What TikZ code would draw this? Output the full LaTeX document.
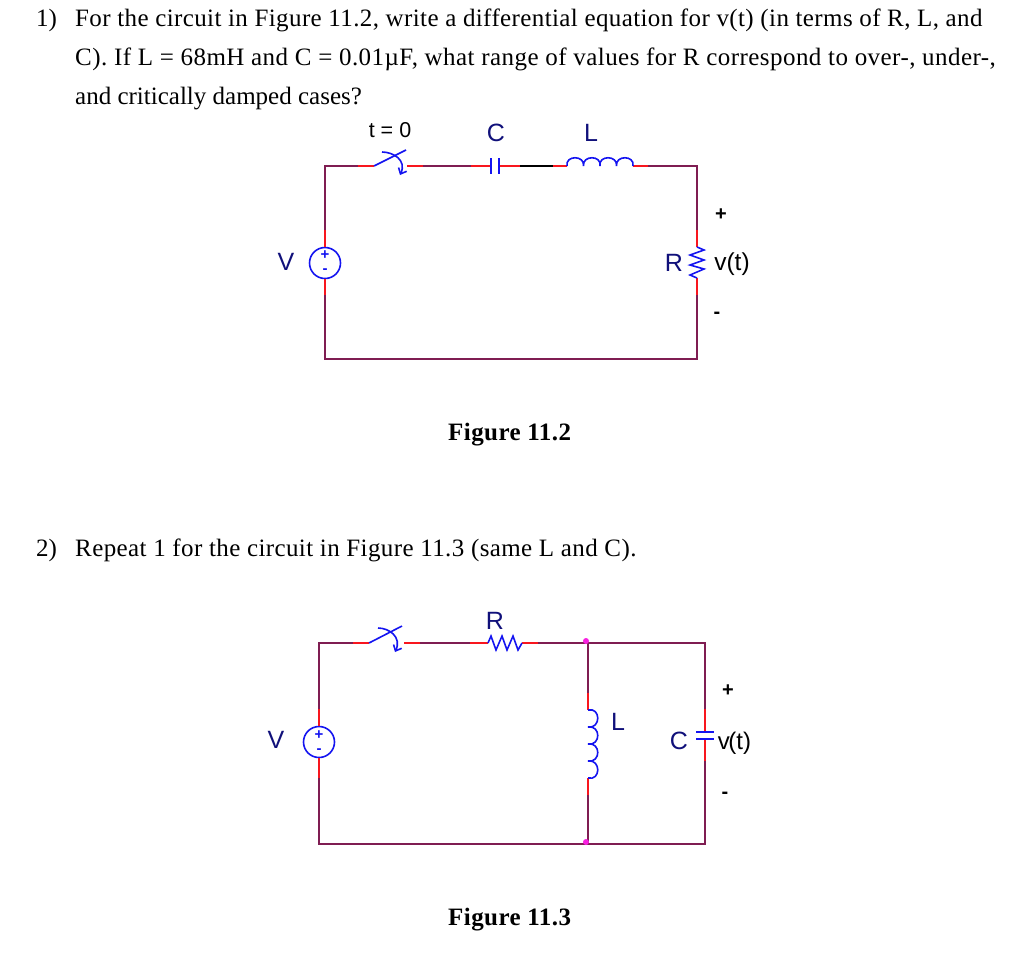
\documentclass[tikz,border=0pt]{standalone}
\usepackage{fontspec}
\usetikzlibrary{arrows.meta}
\setmainfont{Liberation Serif}
\setsansfont{Liberation Sans}
\definecolor{wirecol}{HTML}{7F1D52}
\definecolor{leadcol}{HTML}{F8161E}
\definecolor{partcol}{HTML}{1414F0}
\definecolor{namecol}{HTML}{10107A}
\definecolor{dotcol}{HTML}{F820E0}
\tikzset{
  wire/.style={wirecol, line width=1.8pt},
  lead/.style={leadcol, line width=1.8pt},
  part/.style={partcol, line width=1.6pt},
  swing/.style={part, -{Straight Barb[length=5pt, width=9pt]}},
  source/.style={draw=partcol, line width=1.6pt, circle, minimum size=31pt, inner sep=0pt},
  plain/.style={anchor=base west, font=\fontsize{25}{25}\selectfont, inner sep=0pt},
  body/.style={plain, font=\fontsize{25}{25}\selectfont\addfontfeature{LetterSpace=#1}},
  caption/.style={plain, font=\fontsize{25}{25}\selectfont\bfseries\addfontfeature{LetterSpace=1.7}},
  partname/.style={namecol, font=\sffamily\fontsize{25}{25}\selectfont, inner sep=0pt},
  probe/.style={black, font=\sffamily\fontsize{24.5}{24.5}\selectfont, inner sep=0pt},
  polarity/.style={black, font=\sffamily\bfseries\fontsize{20}{20}\selectfont, inner sep=0pt},
  sign/.style={partcol, font=\sffamily\bfseries\fontsize{15}{15}\selectfont, inner sep=0pt},
  junction/.style={fill=dotcol, circle, minimum size=6pt, inner sep=0pt}
}
\begin{document}
\begin{tikzpicture}[x=1pt, y=-1pt]
\useasboundingbox (0,0) rectangle (1024,954);

\node[plain] (Q1 num) at (36,26) {1)};
\node[body=1.55] (Q1 a) at (75,26) {For the circuit in Figure 11.2, write a differential equation for v(t) (in terms of R, L, and};
\node[body=1.8] (Q1 b) at (75,65) {C). If L = 68mH and C = 0.01µF, what range of values for R correspond to over-, under-,};
\node[plain] (Q1 c) at (75,104) {and critically damped cases?};
\node[caption] (Cap 1) at (448,440) {Figure 11.2};
\node[plain] (Q2 num) at (36,556) {2)};
\node[body=1.6] (Q2) at (75,556) {Repeat 1 for the circuit in Figure 11.3 (same L and C).};
\node[caption] (Cap 2) at (448,925) {Figure 11.3};

% first circuit
\node[source] (V 1) at (325,263) {};
\node[sign] (V 1 plus) at (325,255) {+};
\node[sign] (V 1 minus) at (325,271) {-};
\coordinate (V 1 up) at (325,230);
\coordinate (V 1 down) at (325,295);
\coordinate (Sw 1 in) at (374,166);
\coordinate (Sw 1 tip) at (406,150);
\coordinate (Sw 1 out) at (407,166);
\coordinate (Sw 1 a) at (358,166);
\coordinate (Sw 1 b) at (423,166);
\coordinate (Sw 1 from) at (382,152);
\coordinate (Sw 1 to) at (400,175);
\coordinate (C 1 a) at (471,166);
\coordinate (C 1 in) at (491,166);
\coordinate (C 1 out) at (499,166);
\coordinate (C 1 b) at (520,166);
\coordinate (L 1 a) at (553,166);
\coordinate (L 1 in) at (567,166);
\coordinate (L 1 out) at (633,166);
\coordinate (L 1 b) at (648,166);
\coordinate (R 1 up) at (697,230);
\coordinate (R 1 in) at (697,247);
\coordinate (R 1 out) at (697,278);
\coordinate (R 1 down) at (697,295);
\coordinate (bot 1) at (511,359);

\draw[wire] (V 1 up) |- (Sw 1 a);
\draw[wire] (Sw 1 b) -- (C 1 a);
\draw[black, line width=1.8pt] (C 1 b) -- (L 1 a);
\draw[wire] (L 1 b) -| (R 1 up);
\draw[wire] (V 1 down) |- (bot 1);
\draw[wire] (bot 1) -| (R 1 down);

\draw[lead] (V 1 up) -- (V 1.north);
\draw[lead] (V 1.south) -- (V 1 down);
\draw[lead] (Sw 1 a) -- (Sw 1 in);
\draw[lead] (Sw 1 out) -- (Sw 1 b);
\draw[lead] (C 1 a) -- (C 1 in);
\draw[lead] (C 1 out) -- (C 1 b);
\draw[lead] (L 1 a) -- (L 1 in);
\draw[lead] (L 1 out) -- (L 1 b);
\draw[lead] (R 1 up) -- (R 1 in);
\draw[lead] (R 1 out) -- (R 1 down);

\draw[part] (Sw 1 in) -- (Sw 1 tip);
\draw[swing] (Sw 1 from) .. controls (393,152) and (407,160) .. (Sw 1 to);
\draw[part] (491,158) -- (491,174);
\draw[part] (499,158) -- (499,174);
\draw[part] (L 1 in) .. controls (565,155) and (585,155) .. (583.5,166)
  .. controls (582,155) and (602,155) .. (600,166)
  .. controls (598,155) and (618,155) .. (616.5,166)
  .. controls (615,155) and (635,155) .. (L 1 out);
\draw[part] (R 1 in) -- (704,250) -- (690,255) -- (704,260) -- (690,265) -- (704,269) -- (690,275) -- (R 1 out);

\node[probe, font=\sffamily\fontsize{21.5}{21.5}\selectfont] (Sw 1 name) at (390,130) {t = 0};
\node[partname] (C 1 name) at (496,133) {C};
\node[partname] (L 1 name) at (591,133) {L};
\node[partname] (V 1 name) at (286,262) {V};
\node[partname] (R 1 name) at (674,263) {R};
\node[probe] (v 1) at (732,264) {v(t)};
\node[polarity] (v 1 plus) at (721,215) {+};
\node[polarity] (v 1 minus) at (717,315) {-};

% second circuit
\node[source] (V 2) at (319,742) {};
\node[sign] (V 2 plus) at (319,735) {+};
\node[sign] (V 2 minus) at (319,751) {-};
\coordinate (V 2 up) at (319,709);
\coordinate (V 2 down) at (319,778);
\coordinate (Sw 2 in) at (369,643);
\coordinate (Sw 2 tip) at (402,626);
\coordinate (Sw 2 out) at (404,643);
\coordinate (Sw 2 a) at (353,643);
\coordinate (Sw 2 b) at (420,643);
\coordinate (Sw 2 from) at (378,628);
\coordinate (Sw 2 to) at (395,652);
\coordinate (R 2 a) at (470,643);
\coordinate (R 2 in) at (488,643);
\coordinate (R 2 out) at (522,643);
\coordinate (R 2 b) at (538,643);
\coordinate (L 2 up) at (588,693);
\coordinate (L 2 in) at (588,710);
\coordinate (L 2 out) at (588,778);
\coordinate (L 2 down) at (588,795);
\coordinate (C 2 up) at (705,709);
\coordinate (C 2 in) at (705,732);
\coordinate (C 2 out) at (705,739);
\coordinate (C 2 down) at (705,761);
\coordinate (top 2) at (588,643);
\coordinate (bot 2) at (588,844);

\draw[wire] (V 2 up) |- (Sw 2 a);
\draw[wire] (Sw 2 b) -- (R 2 a);
\draw[wire] (R 2 b) -- (top 2);
\draw[wire] (top 2) -| (C 2 up);
\draw[wire] (top 2) -- (L 2 up);
\draw[wire] (L 2 down) -- (bot 2);
\draw[wire] (V 2 down) |- (bot 2);
\draw[wire] (bot 2) -| (C 2 down);

\draw[lead] (V 2 up) -- (V 2.north);
\draw[lead] (V 2.south) -- (V 2 down);
\draw[lead] (Sw 2 a) -- (Sw 2 in);
\draw[lead] (Sw 2 out) -- (Sw 2 b);
\draw[lead] (R 2 a) -- (R 2 in);
\draw[lead] (R 2 out) -- (R 2 b);
\draw[lead] (L 2 up) -- (L 2 in);
\draw[lead] (L 2 out) -- (L 2 down);
\draw[lead] (C 2 up) -- (C 2 in);
\draw[lead] (C 2 out) -- (C 2 down);

\draw[part] (Sw 2 in) -- (Sw 2 tip);
\draw[swing] (Sw 2 from) .. controls (389,628) and (402,637) .. (Sw 2 to);
\draw[part] (R 2 in) -- (491,636) -- (496,650) -- (502,636) -- (507,650) -- (513,636) -- (518,650) -- (R 2 out);
\draw[part] (L 2 in) .. controls (601,707) and (601,729) .. (588,727)
  .. controls (601,725) and (601,746) .. (588,744)
  .. controls (601,742) and (601,763) .. (588,761)
  .. controls (601,759) and (601,781) .. (L 2 out);
\draw[part] (696,732) -- (714,732);
\draw[part] (696,739) -- (714,739);

\node[junction] (J top) at (586,641) {};
\node[junction] (J bot) at (586,842) {};

\node[partname] (R 2 name) at (495,621) {R};
\node[partname] (V 2 name) at (276,740) {V};
\node[partname] (L 2 name) at (618,722) {L};
\node[partname] (C 2 name) at (679,741) {C};
\node[probe, font=\sffamily\fontsize{24}{24}\selectfont] (v 2) at (734.5,743) {v\kern-1.5pt(t)};
\node[polarity] (v 2 plus) at (728,691) {+};
\node[polarity] (v 2 minus) at (725,795) {-};
\end{tikzpicture}
\end{document}
